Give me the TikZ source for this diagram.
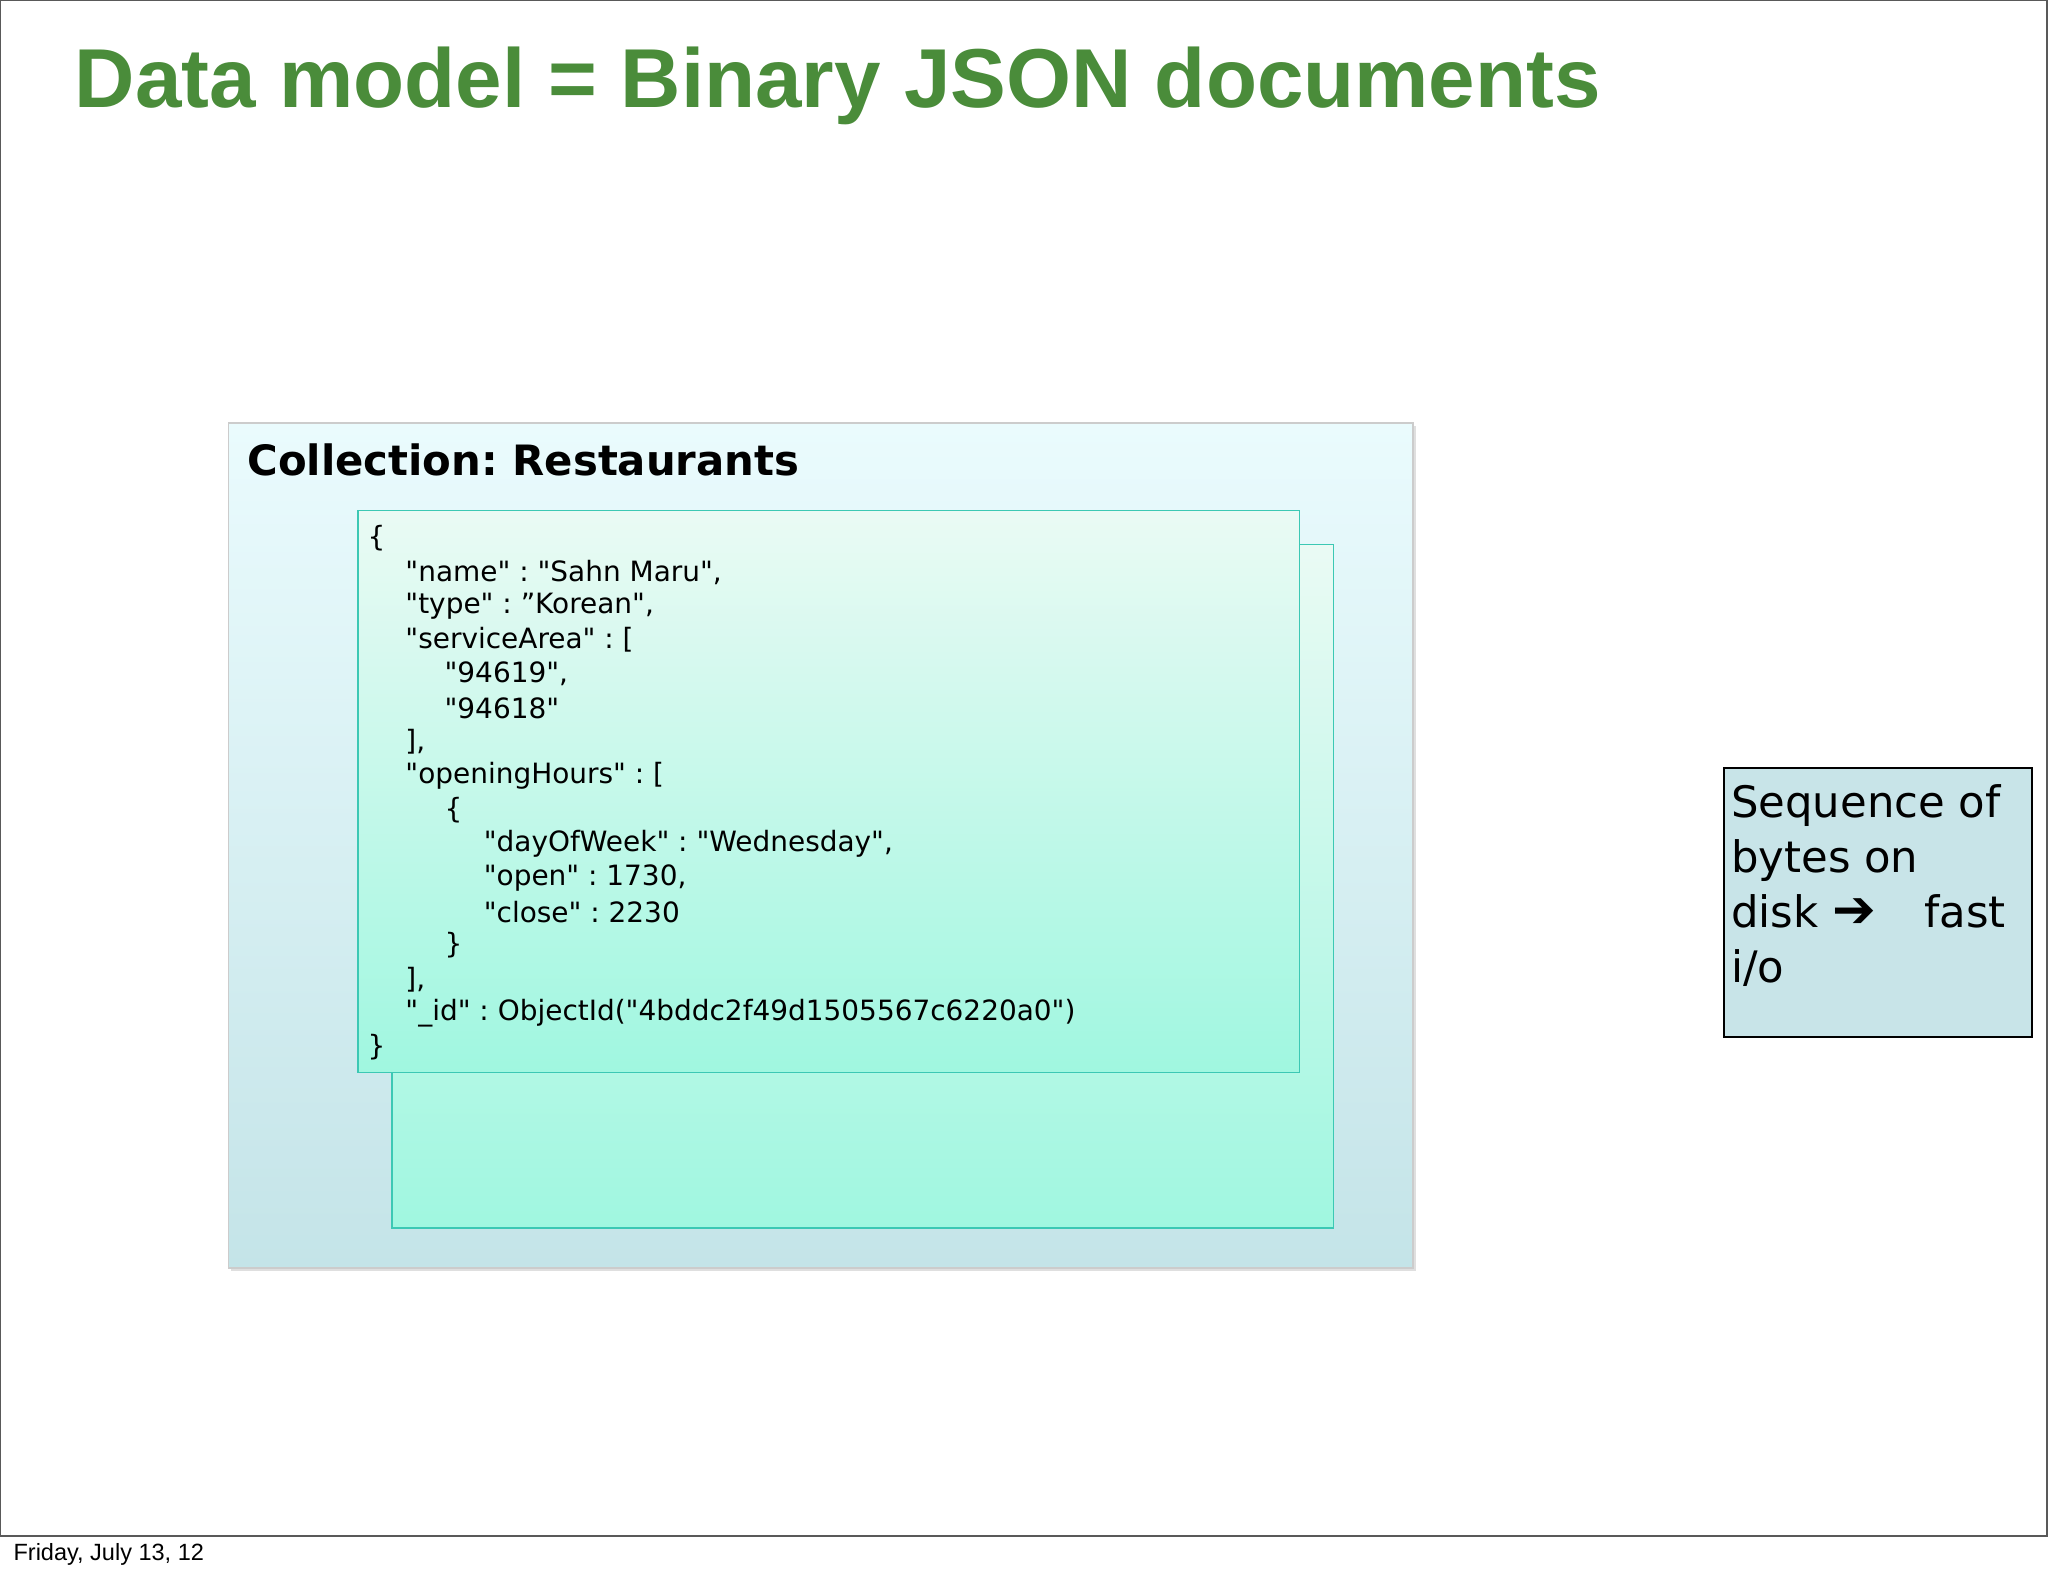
\documentclass[tikz,border=0pt]{standalone}
\usepackage{fontspec}
\setmainfont{DejaVu Sans}
\newfontfamily\jsonf{DejaVu Sans}
\newfontfamily\arialf{Liberation Sans}
\usetikzlibrary{shadows}
\definecolor{titlegreen}{RGB}{74,140,58}
\definecolor{colltop}{RGB}{234,251,253}
\definecolor{collbot}{RGB}{196,228,232}
\definecolor{doctop}{RGB}{234,250,244}
\definecolor{docbot}{RGB}{160,247,224}
\definecolor{docedge}{RGB}{60,200,180}
\definecolor{seqfill}{RGB}{200,228,232}
\begin{document}
\frenchspacing
\begin{tikzpicture}[x=0.5pt,y=-0.5pt,
  jl/.style={anchor=west,inner sep=0pt,font=\jsonf\fontsize{10.7}{12}\selectfont},
  docbox/.style={draw=docedge,line width=0.6pt,top color=doctop,bottom color=docbot},
  seqline/.style={anchor=base west,inner sep=0pt,font=\fontsize{16.6}{20}\selectfont}]
\useasboundingbox (0,0) rectangle (1568,1207);
\fill[white] (0,0) rectangle (1568,1207);
\draw[gray!70!black,line width=0.6pt] (0.5,0.5) rectangle (1567,1176);
\draw[gray!70!black,line width=0.6pt] (0,1176) -- (1568,1176);
\node[anchor=base west,inner sep=0pt,font=\arialf\bfseries\fontsize{32}{38}\selectfont,text=titlegreen] (title) at (57,82) {Data model = Binary JSON documents};
\node[anchor=west,inner sep=0pt,font=\arialf\fontsize{9}{10}\selectfont] (foot) at (10,1190) {Friday, July 13, 12};
% collection
\path[draw=gray!40,line width=0.6pt,top color=colltop,bottom color=collbot,drop shadow={opacity=0.25,shadow xshift=1pt,shadow yshift=-1pt}] (175,324) rectangle (1082,971);
\node[anchor=base west,inner sep=0pt,font=\bfseries\fontsize{16}{19}\selectfont] (coll) at (189,364) {Collection: Restaurants};
\path[docbox] (300,417) rectangle (1021,940);
\path[docbox] (274,391) rectangle (995,821);
\node[jl] (l1) at (281,412) {\{};
\node[jl] (l2) at (310,438) {"name" : "Sahn Maru",};
\node[jl] (l3) at (310,464) {"type" : ”Korean",};
\node[jl] (l4) at (310,490) {"serviceArea" : [};
\node[jl] (l5) at (340,516) {"94619",};
\node[jl] (l6) at (340,542) {"94618"};
\node[jl] (l7) at (310,568) {],};
\node[jl] (l8) at (310,594) {"openingHours" : [};
\node[jl] (l9) at (340,620) {\{};
\node[jl] (l10) at (370,646) {"dayOfWeek" : "Wednesday",};
\node[jl] (l11) at (370,672) {"open" : 1730,};
\node[jl] (l12) at (370,698) {"close" : 2230};
\node[jl] (l13) at (340,724) {\}};
\node[jl] (l14) at (310,750) {],};
\node[jl] (l15) at (310,776) {"\_id" : ObjectId("4bddc2f49d1505567c6220a0")};
\node[jl] (l16) at (281,802) {\}};
% sequence box
\path[draw=black,line width=0.7pt,fill=seqfill] (1320,588) rectangle (1556,794);
\node[seqline] (s1) at (1325,626) {Sequence of};
\node[seqline] (s2) at (1325,668) {bytes on};
\node[seqline] (s3) at (1325,710) {disk \textbf{\fontsize{20}{20}\selectfont ➔}};
\node[anchor=base east,inner sep=0pt,font=\fontsize{16.6}{20}\selectfont] (s3b) at (1536,710) {fast};
\node[seqline] (s4) at (1325,752) {i/o};
\end{tikzpicture}
\end{document}
